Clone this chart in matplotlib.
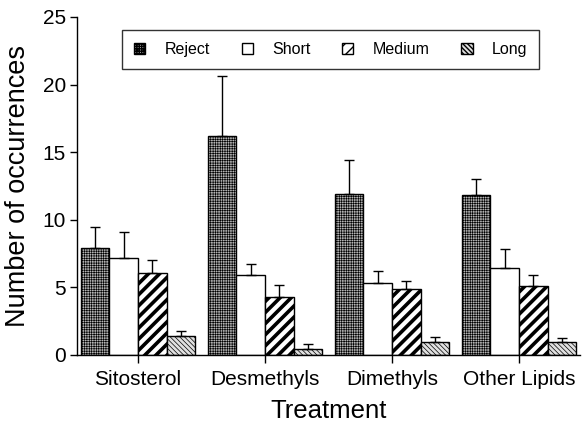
import numpy as np
import matplotlib
matplotlib.use("Agg")
import matplotlib.pyplot as plt
from matplotlib.patches import Patch

plt.rcParams['font.family'] = ['Liberation Sans', 'DejaVu Sans']

treatments = ["Sitosterol", "Desmethyls", "Dimethyls", "Other Lipids"]
series = ["Reject", "Short", "Medium", "Long"]
means = {
    "Reject": [7.9, 16.2, 11.9, 11.8],
    "Short":  [7.2, 5.9, 5.3, 6.4],
    "Medium": [6.1, 4.3, 4.9, 5.1],
    "Long":   [1.4, 0.45, 0.95, 0.95],
}
errors = {
    "Reject": [1.6, 4.4, 2.5, 1.2],
    "Short":  [1.9, 0.85, 0.9, 1.45],
    "Medium": [0.95, 0.85, 0.6, 0.8],
    "Long":   [0.35, 0.35, 0.4, 0.3],
}
yticks = [0, 5, 10, 15, 20, 25]

styles = {
    "Reject": dict(facecolor="#b4b4b4", hatch="+" * 7, hlw=0.45),
    "Short":  dict(facecolor="white", hatch=None, hlw=1.0),
    "Medium": dict(facecolor="white", hatch="///", hlw=2.6),
    "Long":   dict(facecolor="#e0e0e0", hatch="\\" * 7, hlw=0.5),
}

fig = plt.figure(figsize=(5.82, 4.32), dpi=100)
ax = fig.add_axes([77 / 582, 77 / 432, 503 / 582, 338 / 432])

x = np.arange(len(treatments))
width = 0.225
offsets = (np.arange(len(series)) - 1.5) * width

for s, off in zip(series, offsets):
    st = styles[s]
    bars = ax.bar(x + off, means[s], width, facecolor=st["facecolor"],
                  edgecolor="black", linewidth=1.0, hatch=st["hatch"], zorder=2)
    for b in bars:
        if hasattr(b, "set_hatch_linewidth"):
            b.set_hatch_linewidth(st["hlw"])
    ax.errorbar(x + off, means[s], yerr=[np.zeros(len(x)), errors[s]],
                fmt="none", ecolor="black", elinewidth=1.0, capsize=3.5,
                capthick=1.0, zorder=3)

ax.set_xlim(-0.48, 3.48)
ax.set_ylim(0, 25)
ax.set_yticks(yticks)
ax.set_xticks(x)
ax.set_xticklabels(treatments, fontsize=15)
ax.tick_params(axis="y", labelsize=15, length=5, width=1, direction="out", pad=3)
ax.tick_params(axis="x", length=6, width=1, direction="out", pad=5)
for sp in ["top", "right"]:
    ax.spines[sp].set_visible(False)
for sp in ["left", "bottom"]:
    ax.spines[sp].set_linewidth(1.0)

ax.set_ylabel("Number of occurrences", fontsize=19.5, labelpad=8)
ax.set_xlabel("Treatment", fontsize=18.5, labelpad=7)

handles = []
for s in series:
    st = styles[s]
    p = Patch(facecolor=st["facecolor"], edgecolor="black", hatch=st["hatch"],
              linewidth=1.0, label=s)
    if hasattr(p, "set_hatch_linewidth"):
        p.set_hatch_linewidth(st["hlw"] * 0.8)
    handles.append(p)

leg = ax.legend(handles=handles, ncol=4, loc="upper left",
                bbox_to_anchor=((122 - 77) / 503, (355 - 30) / 338),
                fontsize=11.5, frameon=True, fancybox=False, edgecolor="black",
                handlelength=0.7, handleheight=0.7, handletextpad=1.2,
                columnspacing=2.0, borderpad=0.75, borderaxespad=0)
leg.get_frame().set_linewidth(1.0)

fig.savefig("out.png", dpi=100)
